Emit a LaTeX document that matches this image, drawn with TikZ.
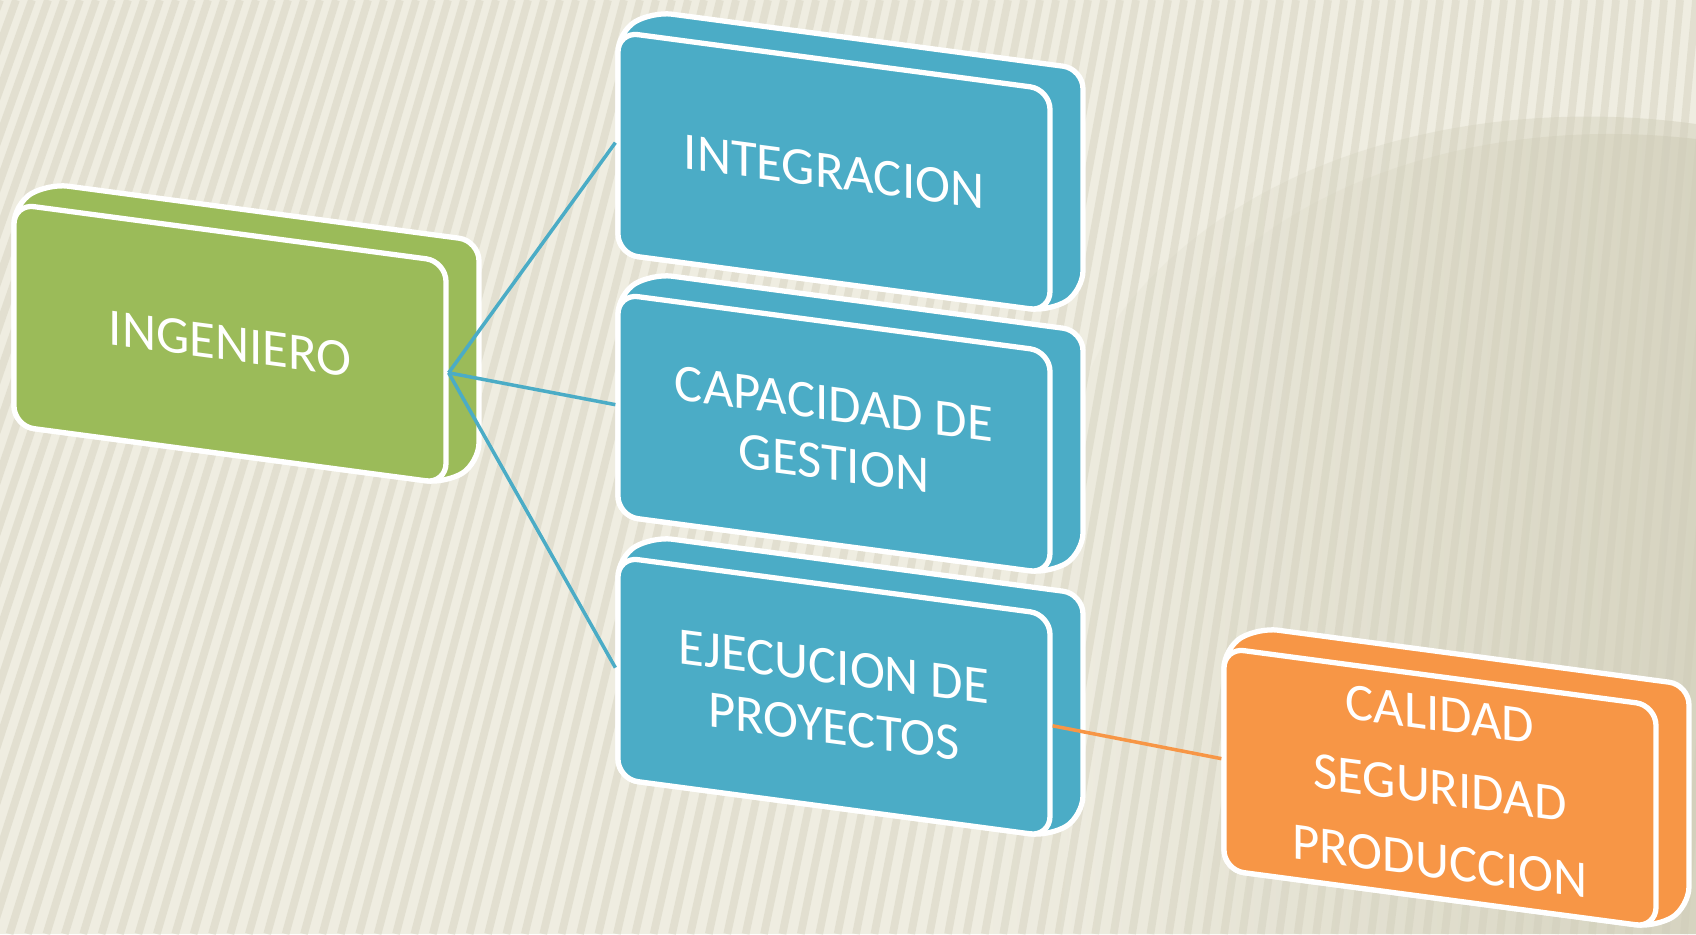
\documentclass[tikz,border=0pt]{standalone}
\usepackage{fontspec}
\newfontfamily\carlito{Carlito}
\definecolor{fondo}{HTML}{EFEDE1}
\definecolor{fondooscuro}{HTML}{D3D0BB}
\definecolor{raya}{HTML}{CFCCB8}
\definecolor{verde}{HTML}{9BBB59}
\definecolor{azul}{HTML}{4BACC6}
\definecolor{naranja}{HTML}{F79646}
\tikzset{
  caja/.style={draw=white, line width=1.5pt, rounded corners=0.2cm,
    minimum width=4.32cm, minimum height=2.22cm, inner sep=0pt,
    text=white, align=center, font=\carlito\fontsize{15}{17}\selectfont,
    transform shape},
  fondocaja/.style={draw=white, line width=1.5pt, rounded corners=0.2cm},
  enlace/.style={line width=1pt}
}
\begin{document}
\begin{tikzpicture}
\useasboundingbox (0,0) rectangle (16.96,9.34);
\begin{scope}
  \clip (0,0) rectangle (16.96,9.34);
  \fill[fondo] (0,0) rectangle (16.96,9.34);
  \shade[left color=fondo, right color=fondooscuro, opacity=0.5] (16.96,8.1)
    .. controls (14.8,8.4) and (12.4,7.8) .. (11.2,6.2)
    .. controls (10.3,4.8) and (10.0,2.0) .. (9.8,0) -- (16.96,0) -- cycle;
  \shade[left color=fondo, right color=fondooscuro, opacity=0.7] (16.96,7.95)
    .. controls (14.8,8.2) and (12.8,7.5) .. (11.8,6.2)
    .. controls (10.9,4.8) and (10.8,2.0) .. (10.6,0) -- (16.96,0) -- cycle;
  \foreach \x in {0,0.16,...,24}
    \draw[raya, line width=2.2pt, opacity=0.4] (\x,9.34) -- (\x*1.15-3.4,0);
\end{scope}
% cajas
\foreach \n/\x/\y/\c/\t in {
    ing/0.14/7.30/verde/{INGENIERO},
    cal/12.24/2.86/naranja/{CALIDAD\\[4pt]SEGURIDAD\\[4pt]PRODUCCION},
    eje/6.18/3.77/azul/{EJECUCION DE\\PROYECTOS},
    cap/6.18/6.40/azul/{CAPACIDAD DE\\GESTION},
    int/6.18/9.02/azul/{INTEGRACION}}
{
  \begin{scope}[shift={(\x,\y)}, yslant=-0.133]
    \filldraw[fondocaja, fill=\c] (0,0) -- (0.34,0.25) -- (4.65,0.25)
      -- (4.65,-1.97) -- (4.32,-2.22) -- (0,-2.22) -- cycle;
    \node[caja, fill=\c] (\n) at (2.16,-1.11) {\t};
  \end{scope}
}
\draw[enlace, azul] (ing.east) -- (int.west);
\draw[enlace, azul] (ing.east) -- (cap.west);
\draw[enlace, azul] (ing.east) -- (eje.west);
\draw[enlace, naranja] (eje.east) -- (cal.west);
\end{tikzpicture}
\end{document}
